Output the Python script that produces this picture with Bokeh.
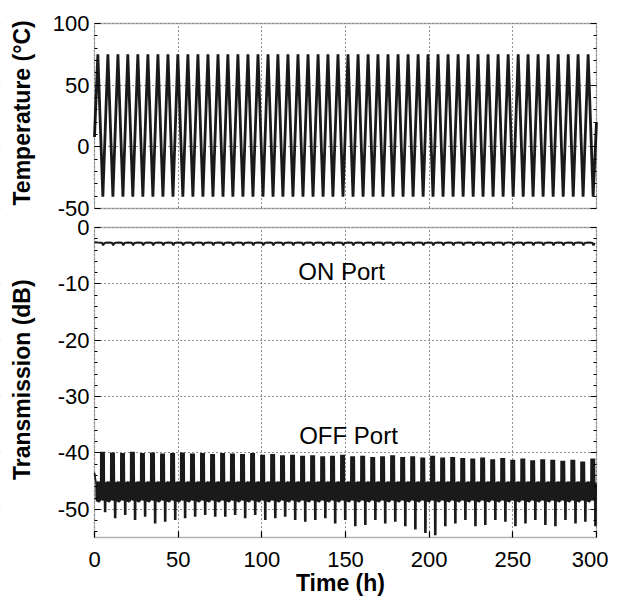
import math
from bokeh.plotting import figure
from bokeh.models import (Range1d, LinearAxis, FixedTicker, Label, BoxAnnotation,
                          CustomJSTickFormatter)
from bokeh.embed import file_html
from bokeh.resources import INLINE

# ---------------- data ----------------
# temperature cycling: times (h) of the hot peaks and cold troughs
peak_t = [2.0, 8.0, 14.0, 19.9, 25.9, 31.9, 37.9, 43.9, 49.8, 55.8,
          61.8, 67.8, 73.8, 79.7, 85.7, 91.7, 97.7, 103.7, 109.6, 115.6,
          121.6, 127.6, 133.6, 139.5, 145.5, 151.5, 157.5, 163.5, 169.4, 175.4,
          181.4, 187.4, 193.4, 199.3, 205.3, 211.3, 217.3, 223.3, 229.2, 235.2,
          241.2, 247.2, 253.2, 259.1, 265.1, 271.1, 277.1, 283.1, 289.0, 295.0]
trough_t = [5.0, 11.0, 17.0, 22.9, 28.9, 34.9, 40.9, 46.9, 52.8, 58.8,
            64.8, 70.8, 76.8, 82.7, 88.7, 94.7, 100.7, 106.7, 112.6, 118.6,
            124.6, 130.6, 136.6, 142.5, 148.5, 154.5, 160.5, 166.5, 172.4, 178.4,
            184.4, 190.4, 196.4, 202.3, 208.3, 214.3, 220.3, 226.3, 232.2, 238.2,
            244.2, 250.2, 256.2, 262.1, 268.1, 274.1, 280.1, 286.1, 292.0, 298.0]
temp_max = 75.0
temp_min = -40.5
temp_first = (0.0, 8.0)
temp_last = (300.0, 20.0)

# OFF port: top of each upward burst and bottom of each downward dip (dB)
off_top = [-39.8, -39.9, -40.0, -39.8, -40.0, -39.9, -40.1, -40.0, -39.9, -40.1,
           -40.0, -40.2, -40.0, -40.1, -40.2, -40.0, -40.3, -40.2, -40.4, -40.3,
           -40.5, -40.4, -40.6, -40.5, -40.3, -40.6, -40.5, -40.7, -40.6, -40.4,
           -40.7, -40.6, -40.8, -40.5, -40.8, -40.7, -40.9, -41.0, -40.8, -41.1,
           -40.9, -41.2, -41.0, -41.3, -41.1, -41.2, -41.4, -41.2, -41.5, -41.0]
off_dip = [-50.5, -51.6, -51.0, -51.9, -51.3, -52.5, -52.2, -51.9, -51.6, -51.3,
           -51.0, -51.3, -51.3, -51.0, -51.6, -51.0, -51.9, -51.6, -51.3, -51.9,
           -52.2, -51.9, -51.6, -52.5, -51.9, -53.0, -52.8, -51.9, -52.5, -52.2,
           -53.0, -53.6, -54.2, -54.6, -53.0, -52.5, -51.9, -53.0, -52.8, -51.9,
           -52.2, -53.0, -52.5, -51.9, -52.8, -53.0, -51.9, -52.5, -52.2, -53.0]
# typical OFF-port trace around one cold trough (h relative to trough, dB)
off_tpl_dt = [-4.05, -3.95, -3.85, -3.75, -3.65, -3.55, -3.45, -3.35, -3.25, -3.15,
              -3.05, -2.95, -2.85, -2.75, -2.65, -2.55, -2.45, -2.35, -2.25, -2.15,
              -2.05, -1.95, -1.85, -1.75, -1.65, -1.55, -1.45, -1.35,
              -1.25, -1.15, -1.05, -0.95, -0.85, -0.75, -0.65, -0.55, -0.45, -0.35,
              -0.25, -0.15, -0.05, 0.05, 0.15, 0.25, 0.35, 0.45, 0.55, 0.65, 0.75,
              0.9, 1.05, 1.2, 1.35, 1.5, 1.65, 1.8]
off_tpl_v = [-45.4, -48.3, -45.1, -48.6, -45.6, -48.0, -45.2, -48.5, -45.5, -48.2,
             -45.0, -48.7, -45.3, -48.1, -45.6, -48.4, -45.2, -48.8, -45.4, -48.0,
             -45.1, -48.5, -45.5, -48.3, -45.0, -48.6, -45.3, -48.2,
             "top", -48.1, "top", -47.6, "top", -48.4, "top", -47.9, "top", -48.3,
             "top", -47.7, "top", -48.5, "top", -48.0, "top", -47.5, "top", -48.2,
             "top",
             -45.6, "dip", -45.2, "dip", -45.8, "dip", -45.4]
off_first = (0.0, -43.5)

# ON port: typical trace around one cold trough
on_tpl_dt = [-3.0, -0.6, 0.2, 0.9]
on_tpl_v = [-2.65, -2.7, -3.15, -2.75]
on_first = (0.0, -2.6)

on_label = ("ON Port", 147.7, -7.75)
off_label = ("OFF Port", 151.8, -36.9)

x_ticks = [0, 50, 100, 150, 200, 250, 300]
temp_ticks = [-50, 0, 50, 100]
trans_ticks = [-50, -40, -30, -20, -10, 0]

# ---------------- build series ----------------
temp_x = [temp_first[0]]
temp_y = [temp_first[1]]
for pk, tr in zip(peak_t, trough_t):
    temp_x += [pk, tr]
    temp_y += [temp_max, temp_min]
temp_x.append(temp_last[0])
temp_y.append(temp_last[1])

off_x = [off_first[0]]
off_y = [off_first[1]]
for k, tr in enumerate(trough_t):
    for dt, v in zip(off_tpl_dt, off_tpl_v):
        off_x.append(tr + dt)
        if v == "top":
            off_y.append(off_top[k])
        elif v == "dip":
            off_y.append(off_dip[k])
        else:
            off_y.append(v)

on_x = [on_first[0]]
on_y = [on_first[1]]
for tr in trough_t:
    for dt, v in zip(on_tpl_dt, on_tpl_v):
        on_x.append(tr + dt)
        on_y.append(v)

# ---------------- layout: whole canvas is one frame, two panels drawn in it ----
W, H = 608, 599                      # canvas size
PX_X0, PX_X1 = 94, 596               # canvas columns of t=0 and t=300
PX_TOP, PX_GAP0, PX_GAP1, PX_BOT = 23, 208, 227, 537   # canvas rows
X_LO, X_HI = 0, 300
TEMP_LO, TEMP_HI = -50, 100
TR_LO, TR_HI = -55, 0

sx = (PX_X1 - PX_X0) / (X_HI - X_LO)
x_rng = Range1d(X_LO - PX_X0 / sx, X_HI + (W - PX_X1) / sx)
s_tr = (PX_BOT - PX_GAP1) / (TR_HI - TR_LO)
tr_rng = Range1d(TR_LO - (H - PX_BOT) / s_tr, TR_HI + PX_GAP1 / s_tr)
s_tp = (PX_GAP0 - PX_TOP) / (TEMP_HI - TEMP_LO)
tp_rng = Range1d(TEMP_LO - (H - PX_GAP0) / s_tp, TEMP_HI + PX_TOP / s_tp)


def t2y(t):
    """temperature value -> position on the default (dB) y scale"""
    f = (t - tp_rng.start) / (tp_rng.end - tp_rng.start)
    return tr_rng.start + f * (tr_rng.end - tr_rng.start)


FONT = "Liberation Sans"
INK = "#1a1a1a"

p = figure(width=W, height=H, x_range=x_rng, y_range=tr_rng,
           output_backend="svg", toolbar_location=None,
           x_axis_location=None, y_axis_location=None,
           min_border=0, min_border_left=0, min_border_right=0,
           min_border_top=0, min_border_bottom=0)
p.extra_y_ranges = {"temp": tp_rng}
p.outline_line_color = None
p.background_fill_color = "white"
p.border_fill_color = "white"

# grid
p.xgrid.ticker = FixedTicker(ticks=x_ticks)
y_major = [float(v) for v in trans_ticks] + [t2y(v) for v in temp_ticks]
y_minor = [float(v) for v in range(-54, 0, 2) if v % 10 != 0] + \
          [t2y(v) for v in range(-40, 100, 10) if v % 50 != 0]
p.ygrid.ticker = FixedTicker(ticks=y_major)
for g in (p.xgrid[0], p.ygrid[0]):
    g.grid_line_color = "#222222"
    g.grid_line_dash = "1 3"
    g.grid_line_width = 1

# white cover outside the two panels (drawn over the grid, under the data)
tp_bot_y, tp_top_y = t2y(TEMP_LO), t2y(TEMP_HI)
xa, xb = x_rng.start - 50, x_rng.end + 50
ya, yb = tr_rng.start - 50, tr_rng.end + 50
for (l, r, b, t) in ((xa, X_LO, ya, yb), (X_HI, xb, ya, yb),
                     (xa, xb, tp_top_y, yb), (xa, xb, TR_HI, tp_bot_y),
                     (xa, xb, ya, TR_LO)):
    p.add_layout(BoxAnnotation(left=l, right=r, bottom=b, top=t,
                               fill_color="white", fill_alpha=1.0,
                               line_color=None, level="underlay"))


def style_axis(ax, minor=True):
    ax.major_tick_in = 6
    ax.major_tick_out = 0
    ax.minor_tick_in = 3 if minor else 0
    ax.minor_tick_out = 0
    ax.axis_line_color = None
    ax.major_tick_line_color = "black"
    ax.major_tick_line_width = 1.2
    ax.minor_tick_line_color = "black" if minor else None
    ax.major_label_text_font = FONT
    ax.major_label_text_font_size = "22px"
    ax.major_label_text_color = "black"


y_labels = {float(v): "%d" % v for v in trans_ticks}
for v in temp_ticks:
    y_labels[t2y(v)] = "%d" % v

ly = LinearAxis(fixed_location=X_LO,
                ticker=FixedTicker(ticks=y_major, minor_ticks=y_minor),
                major_label_overrides=y_labels)
style_axis(ly)
ly.major_label_standoff = 5
p.add_layout(ly, "left")

ry = LinearAxis(fixed_location=X_HI,
                ticker=FixedTicker(ticks=y_major, minor_ticks=y_minor),
                formatter=CustomJSTickFormatter(code="return '';"))
style_axis(ry)
ry.major_label_standoff = 0
p.add_layout(ry, "right")

bx = LinearAxis(fixed_location=TR_LO, bounds=(X_LO, X_HI),
                ticker=FixedTicker(ticks=x_ticks))
style_axis(bx, minor=False)
bx.major_label_standoff = 14
p.add_layout(bx, "below")

# data
p.line(temp_x, temp_y, y_range_name="temp", line_color=INK, line_width=2.8)
p.line(on_x, on_y, line_color=INK, line_width=2.0)
p.line(off_x, off_y, line_color=INK, line_width=1.6)

# panel frames
p.add_layout(BoxAnnotation(left=X_LO, right=X_HI, bottom=TR_LO, top=TR_HI,
                           fill_color=None, line_color="black", line_width=1.3))
p.add_layout(BoxAnnotation(left=X_LO, right=X_HI, bottom=tp_bot_y, top=tp_top_y,
                           fill_color=None, line_color="black", line_width=1.3))

# panel texts
for txt, lx, lyv in (on_label, off_label):
    p.add_layout(Label(x=lx, y=lyv, text=txt, text_align="center",
                       text_baseline="middle", text_font=FONT,
                       text_font_size="24px", text_color="black"))

# axis titles
title_kw = dict(text_align="center", text_baseline="middle", text_font=FONT,
                text_font_style="bold", text_font_size="23px", text_color="black")
p.add_layout(Label(x=-43.5, y=t2y(27.5), text="Temperature (°C)",
                   angle=math.pi / 2, **title_kw))
p.add_layout(Label(x=-43.5, y=-27.0, text="Transmission (dB)",
                   angle=math.pi / 2, **title_kw))
p.add_layout(Label(x=147, y=-63.0, text="Time (h)", **title_kw))

open("out.html", "w").write(file_html(p, INLINE))
